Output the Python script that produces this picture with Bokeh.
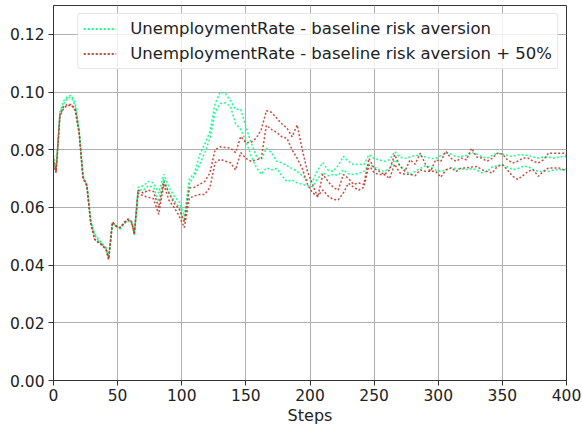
from bokeh.plotting import figure
from bokeh.models import Range1d, FixedTicker, PrintfTickFormatter, Legend, LegendItem
from bokeh.embed import file_html
from bokeh.resources import INLINE

steps = [0, 2, 5, 8, 11, 14, 17, 20, 23, 26, 29, 32, 35, 38, 41, 43, 46, 49, 52, 55, 58, 61, 63,
         66, 70, 74, 78, 82, 86, 90, 94, 98, 102, 106, 110, 114, 118, 122, 126, 130, 134, 138,
         142, 146, 150, 154, 158, 162, 166, 170, 174, 178, 182, 186, 190, 194, 198, 202, 206,
         210, 214, 218, 222, 226, 230, 234, 238, 242, 246, 250, 254, 258, 262, 266, 270, 274,
         278, 282, 286, 290, 294, 298, 302, 306, 310, 314, 318, 322, 326, 330, 334, 338, 342,
         346, 350, 354, 358, 362, 366, 370, 374, 378, 382, 386, 390, 394, 398, 400]

base_hi = [0.078, 0.073, 0.093, 0.097, 0.0985, 0.0988, 0.096, 0.087, 0.071, 0.068, 0.055, 0.051,
           0.049, 0.0475, 0.046, 0.0425, 0.0545, 0.0535, 0.0525, 0.0545, 0.0555, 0.0545, 0.0505,
           0.067, 0.0675, 0.069, 0.0685, 0.065, 0.0715, 0.067, 0.064, 0.062, 0.057, 0.070, 0.072,
           0.0783, 0.082, 0.0863, 0.096, 0.100, 0.0995, 0.097, 0.094, 0.094, 0.088, 0.0825, 0.078,
           0.0765, 0.0805, 0.079, 0.076, 0.0755, 0.0745, 0.0735, 0.0725, 0.071, 0.0695, 0.069,
           0.073, 0.0755, 0.073, 0.0725, 0.0745, 0.0777, 0.076, 0.0748, 0.075, 0.0748, 0.0783,
           0.077, 0.0765, 0.076, 0.0765, 0.0794, 0.0775, 0.077, 0.0775, 0.078, 0.078, 0.0775,
           0.077, 0.077, 0.078, 0.079, 0.0785, 0.0775, 0.0777, 0.078, 0.079, 0.0785, 0.0775,
           0.0771, 0.078, 0.0788, 0.0785, 0.078, 0.0777, 0.0783, 0.0783, 0.078, 0.0775, 0.0771,
           0.0775, 0.0775, 0.0771, 0.0775, 0.0777, 0.0775]

base_lo = [0.076, 0.073, 0.0925, 0.096, 0.098, 0.098, 0.095, 0.0865, 0.0705, 0.068, 0.0555, 0.0505,
           0.0485, 0.047, 0.0458, 0.0425, 0.055, 0.0532, 0.0528, 0.0543, 0.0553, 0.0545, 0.051,
           0.066, 0.066, 0.0675, 0.067, 0.062, 0.070, 0.065, 0.0625, 0.060, 0.055, 0.0685, 0.071,
           0.075, 0.079, 0.084, 0.093, 0.096, 0.0963, 0.095, 0.089, 0.087, 0.083, 0.078, 0.074,
           0.0715, 0.0737, 0.073, 0.0735, 0.071, 0.069, 0.0695, 0.0685, 0.068, 0.0675, 0.0672,
           0.070, 0.072, 0.071, 0.0714, 0.0712, 0.073, 0.0716, 0.0714, 0.0718, 0.0725, 0.075,
           0.074, 0.073, 0.0725, 0.0735, 0.0765, 0.0745, 0.073, 0.0714, 0.0725, 0.0735, 0.0745,
           0.074, 0.073, 0.0725, 0.073, 0.0737, 0.0735, 0.0733, 0.0731, 0.0735, 0.073, 0.072,
           0.0725, 0.074, 0.0745, 0.0748, 0.074, 0.0731, 0.0735, 0.0742, 0.0742, 0.0731, 0.0725,
           0.0725, 0.0725, 0.073, 0.0731, 0.0731, 0.073]

plus50_hi = [0.077, 0.072, 0.092, 0.095, 0.0957, 0.0957, 0.094, 0.086, 0.0705, 0.0675, 0.055, 0.049,
             0.048, 0.047, 0.0455, 0.042, 0.055, 0.0535, 0.053, 0.0548, 0.056, 0.055, 0.0505,
             0.066, 0.065, 0.066, 0.0655, 0.060, 0.069, 0.065, 0.0615, 0.0595, 0.055, 0.0667, 0.067,
             0.068, 0.069, 0.072, 0.080, 0.081, 0.0808, 0.0806, 0.079, 0.0846, 0.0825, 0.0825, 0.084,
             0.087, 0.0935, 0.093, 0.091, 0.089, 0.0875, 0.0845, 0.0886, 0.080, 0.0725, 0.068,
             0.0635, 0.0715, 0.069, 0.067, 0.066, 0.0714, 0.070, 0.068, 0.0685, 0.068, 0.077,
             0.0735, 0.0725, 0.0714, 0.073, 0.0783, 0.0745, 0.0725, 0.0765, 0.075, 0.0788, 0.075,
             0.0725, 0.0765, 0.076, 0.0795, 0.077, 0.076, 0.0771, 0.0765, 0.0805, 0.0775, 0.0771,
             0.076, 0.077, 0.0788, 0.0785, 0.0765, 0.0754, 0.076, 0.0771, 0.0771, 0.076, 0.0754,
             0.0765, 0.0788, 0.0788, 0.0788, 0.0788, 0.078]

plus50_lo = [0.075, 0.072, 0.0915, 0.0945, 0.0953, 0.0955, 0.0935, 0.0855, 0.070, 0.0675, 0.0545, 0.049,
             0.0478, 0.0468, 0.0453, 0.042, 0.0548, 0.0535, 0.053, 0.0545, 0.0558, 0.0548, 0.051,
             0.065, 0.064, 0.0635, 0.063, 0.0576, 0.068, 0.0625, 0.060, 0.057, 0.053, 0.0633, 0.064,
             0.0645, 0.0645, 0.067, 0.0755, 0.0767, 0.076, 0.0755, 0.073, 0.079, 0.077, 0.076, 0.0765,
             0.077, 0.0885, 0.087, 0.086, 0.0845, 0.084, 0.080, 0.077, 0.0735, 0.068, 0.065,
             0.064, 0.066, 0.064, 0.0628, 0.0626, 0.065, 0.0684, 0.067, 0.066, 0.067, 0.0747,
             0.072, 0.0714, 0.0714, 0.070, 0.075, 0.072, 0.0715, 0.0715, 0.071, 0.073, 0.0725,
             0.0725, 0.0725, 0.0705, 0.073, 0.0737, 0.0725, 0.0737, 0.0737, 0.074, 0.0742, 0.0731,
             0.0725, 0.0719, 0.0742, 0.0748, 0.073, 0.0708, 0.0697, 0.071, 0.0725, 0.0731, 0.0708,
             0.0725, 0.0737, 0.0737, 0.0737, 0.073, 0.0735]

labels = ["UnemploymentRate - baseline risk aversion",
          "UnemploymentRate - baseline risk aversion + 50%"]
y_ticks = [0.0, 0.02, 0.04, 0.06, 0.08, 0.10, 0.12]
x_ticks = [0, 50, 100, 150, 200, 250, 300, 350, 400]

FONT = "DejaVu Sans"
GREEN = "#00ff7f"
RED = "#c0392b"

p = figure(width=582, height=431, output_backend="svg", toolbar_location=None,
           x_range=Range1d(0, 400), y_range=Range1d(0, 0.13),
           min_border_left=53, min_border_right=16, min_border_top=5, min_border_bottom=51)

p.outline_line_color = "#333333"
p.outline_line_width = 1
p.background_fill_color = "white"
p.border_fill_color = "white"

for ax in (p.xaxis[0], p.yaxis[0]):
    ax.axis_line_color = "#333333"
    ax.major_tick_line_color = "#333333"
    ax.major_tick_in = 0
    ax.major_tick_out = 5
    ax.minor_tick_line_color = None
    ax.major_label_text_font = FONT
    ax.major_label_text_font_size = "15.5px"
    ax.major_label_text_color = "#222222"

p.xaxis.ticker = FixedTicker(ticks=x_ticks)
p.yaxis.ticker = FixedTicker(ticks=y_ticks)
p.yaxis.formatter = PrintfTickFormatter(format="%.2f")
p.xaxis.major_label_standoff = 3
p.yaxis.major_label_standoff = 4
p.xaxis.axis_label = "Steps"
p.xaxis.axis_label_text_font = FONT
p.xaxis.axis_label_text_font_size = "16px"
p.xaxis.axis_label_text_font_style = "normal"
p.xaxis.axis_label_text_color = "#222222"
p.xaxis.axis_label_standoff = 2

p.xgrid.ticker = FixedTicker(ticks=x_ticks)
p.ygrid.ticker = FixedTicker(ticks=y_ticks)
p.grid.grid_line_color = "#b0b0b0"
p.grid.grid_line_width = 1

g1 = p.line(steps, base_hi, line_color=GREEN, line_width=1.5, line_dash="2 2", line_alpha=0.9)
g2 = p.line(steps, base_lo, line_color=GREEN, line_width=1.5, line_dash="2 2", line_alpha=0.9)
r1 = p.line(steps, plus50_hi, line_color=RED, line_width=1.5, line_dash="2 2", line_alpha=0.9)
r2 = p.line(steps, plus50_lo, line_color=RED, line_width=1.5, line_dash="2 2", line_alpha=0.9)

legend = Legend(items=[LegendItem(label=labels[0], renderers=[g1, g2]),
                       LegendItem(label=labels[1], renderers=[r1, r2])],
                location="top_right")
legend.label_text_font = FONT
legend.label_text_font_size = "16.5px"
legend.label_text_color = "#222222"
legend.glyph_width = 33
legend.glyph_height = 19
legend.label_height = 19
legend.label_standoff = 14
legend.spacing = 6
legend.padding = 5
legend.margin = 8
legend.border_line_color = "#cccccc"
legend.border_line_width = 1
legend.border_radius = 3
legend.background_fill_alpha = 0.8
p.add_layout(legend)

open("out.html", "w").write(file_html(p, INLINE))
